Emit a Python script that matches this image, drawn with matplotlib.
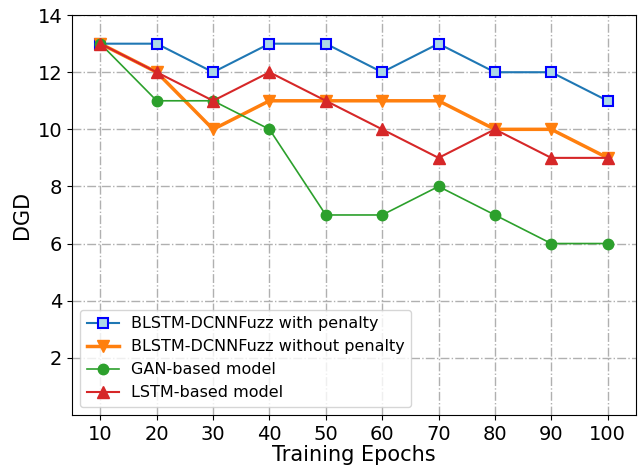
import matplotlib
matplotlib.use('Agg')
import matplotlib.pyplot as plt

epochs = [10, 20, 30, 40, 50, 60, 70, 80, 90, 100]
with_penalty = [13, 13, 12, 13, 13, 12, 13, 12, 12, 11]
without_penalty = [13, 12, 10, 11, 11, 11, 11, 10, 10, 9]
gan_model = [13, 11, 11, 10, 7, 7, 8, 7, 6, 6]
lstm_model = [13, 12, 11, 12, 11, 10, 9, 10, 9, 9]

fig = plt.figure(figsize=(6.39, 4.73), dpi=100)
ax = fig.add_axes([0.113, 0.123, 0.882, 0.845])

ax.plot(epochs, with_penalty, color='#1f77b4', linewidth=1.5, marker='s',
        markersize=7.5, markerfacecolor='lightblue', markeredgecolor='blue',
        markeredgewidth=1.5, label='BLSTM-DCNNFuzz with penalty')
ax.plot(epochs, without_penalty, color='#ff7f0e', linewidth=2.5, marker='v',
        markersize=9, label='BLSTM-DCNNFuzz without penalty')
ax.plot(epochs, gan_model, color='#2ca02c', linewidth=1.2, marker='o',
        markersize=7.5, label='GAN-based model')
ax.plot(epochs, lstm_model, color='#d62728', linewidth=1.5, marker='^',
        markersize=8.5, label='LSTM-based model')

ax.set_xlim(5, 105)
ax.set_ylim(0, 14)
ax.set_xticks(epochs)
ax.set_yticks(range(2, 15, 2))
ax.tick_params(labelsize=14)
ax.set_xlabel('Training Epochs', fontsize=15, labelpad=1)
ax.set_ylabel('DGD', fontsize=15)
ax.grid(True, linestyle='-.', color='#b0b0b0', linewidth=1)

ax.legend(loc='lower left', fontsize=11.5, framealpha=0.8)

fig.savefig('out.png', dpi=100)
